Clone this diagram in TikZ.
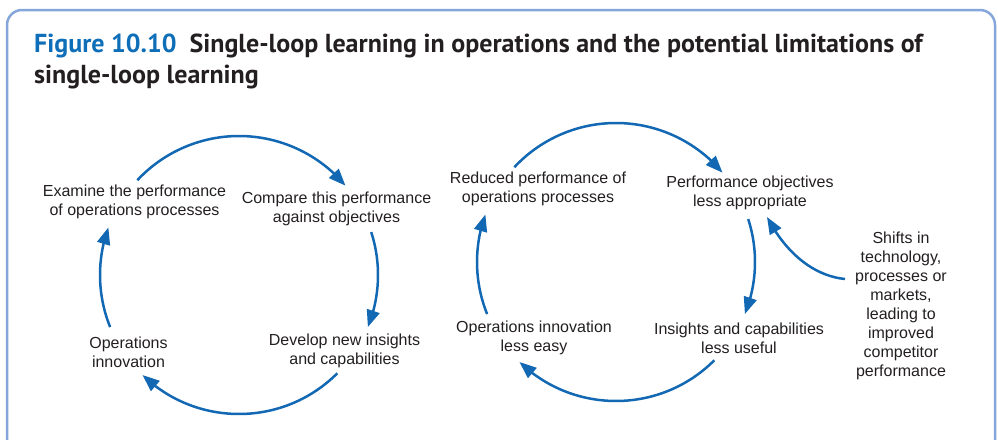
\documentclass[tikz,border=0pt]{standalone}
\usepackage{fontspec}
\setmainfont{Liberation Sans}
\newfontfamily\titlefont{PT Sans}
\usetikzlibrary{arrows.meta,bending}
\definecolor{arrowblue}{HTML}{1268B3}
\definecolor{titleblue}{HTML}{0E6EB8}
\definecolor{framecol}{HTML}{85A6DA}
\definecolor{txt}{HTML}{231F20}
\tikzset{
  lbl/.style={inner sep=0pt, align=center, text=txt, font=\fontsize{16}{19}\selectfont},
  loopline/.style={draw=arrowblue, line width=2.5pt, -{Triangle[length=17pt,width=13pt]}},
}
\begin{document}
\begin{tikzpicture}[x=1pt,y=-1pt]
\useasboundingbox (0,0) rectangle (998,439);
\begin{scope}
\clip (0,0) rectangle (998,439);
\draw[framecol, line width=2.5pt, rounded corners=15pt] (7,10) rectangle (995,455);
\end{scope}
% title
\node[anchor=base west, inner sep=0pt, align=left, text=txt,
      font=\titlefont\bfseries\fontsize{26}{31}\selectfont] (title) at (34,83)
  {\textcolor{titleblue}{Figure 10.10}\enspace Single-loop learning in operations and the potential limitations of\\single-loop learning};
% left loop
\coordinate (L) at (239,275);
\node[lbl] (exam) at (134.5,201.5) {Examine the performance\\of operations processes};
\node[lbl] (comp) at (336.5,208.5) {Compare this performance\\against objectives};
\node[lbl] (dev) at (344.5,351) {Develop new insights\\and capabilities};
\node[lbl] (opinn) at (128.5,352) {Operations\\innovation};
\draw[loopline] (L) ++(-137:139) arc[start angle=-137, end angle=-40, radius=139];
\draw[loopline] (L) ++(-18:139) arc[start angle=-18, end angle=22, radius=139];
\draw[loopline] (L) ++(45:139) arc[start angle=45, end angle=134, radius=139];
\draw[loopline] (L) ++(158:139) arc[start angle=158, end angle=200, radius=139];
% right loop
\coordinate (R) at (616,262);
\node[lbl] (red) at (538,188.5) {Reduced performance of\\operations processes};
\node[lbl] (perf) at (750,193) {Performance objectives\\less appropriate};
\node[lbl] (ins) at (739,338) {Insights and capabilities\\less useful};
\node[lbl] (opless) at (534,338) {Operations innovation\\less easy};
\draw[loopline] (R) ++(-137:139) arc[start angle=-137, end angle=-40, radius=139];
\draw[loopline] (R) ++(-18:139) arc[start angle=-18, end angle=22, radius=139];
\draw[loopline] (R) ++(45:139) arc[start angle=45, end angle=134, radius=139];
\draw[loopline] (R) ++(158:139) arc[start angle=158, end angle=200, radius=139];
% shifts
\node[lbl] (shifts) at (901,305.5) {Shifts in\\technology,\\processes or\\markets,\\leading to\\improved\\competitor\\performance};
\coordinate (sstart) at (845,279);
\coordinate (send) at (767,217);
\draw[loopline] (sstart) .. controls (815,276) and (787,255) .. (send);
\end{tikzpicture}
\end{document}
